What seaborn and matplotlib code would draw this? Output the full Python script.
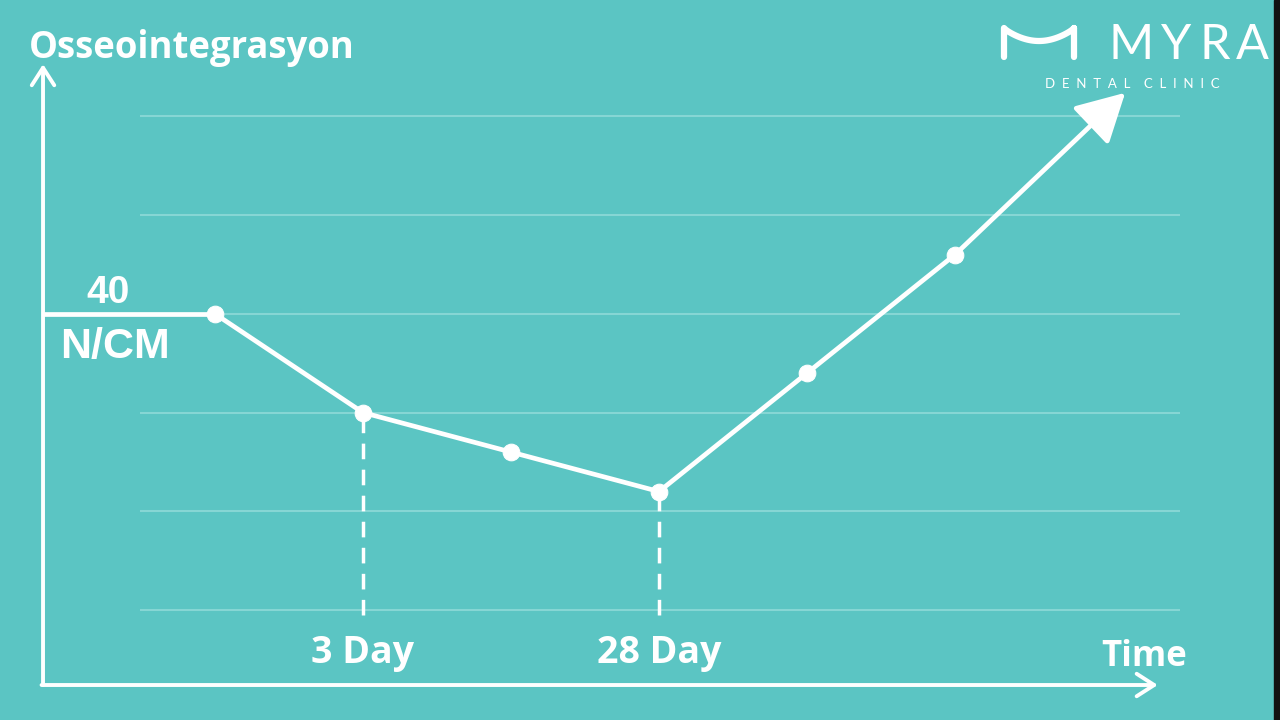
import numpy as np
import pandas as pd
import seaborn as sns
import matplotlib.pyplot as plt
from matplotlib.lines import Line2D

# chart data (time step index vs. implant stability, N/cm)
steps = [1, 2, 3, 4, 5, 6]
stability = [40, 30, 26, 22, 34, 46]
arrow_tip = (7.15, 62.4)
grid_levels = [10, 20, 30, 40, 50, 60]
day_marks = {'3 Day': 2, '28 Day': 4}
y_title = 'Osseointegrasyon'
x_title = 'Time'

BG = '#5bc5c3'
GRID = '#86d6d4'
WHITE = 'white'

sns.set_style('white')
plt.rcParams['font.family'] = ['Open Sans', 'DejaVu Sans']

fig = plt.figure(figsize=(12.8, 7.2), dpi=100)
fig.patch.set_facecolor(BG)
ax = fig.add_axes([0, 0, 1, 1])
ax.set_facecolor(BG)
ax.set_xlim(-0.4527, 8.196)
ax.set_ylim(-1.145, 71.8)
ax.axis('off')

# axis origin in data units
x0, y0 = -0.162, 2.4

# faint horizontal guides
ax.hlines(grid_levels, 0.49, 7.52, color=GRID, lw=1.5, zorder=1)

# dashed drops at the day markers
df = pd.DataFrame({'step': steps, 'value': stability})
for lab, s in day_marks.items():
    v = df.loc[df.step == s, 'value'].iloc[0]
    ax.vlines(s, 9.5, v, color=WHITE, lw=2.5, linestyles=(0, (4.5, 3)), zorder=2)
    ax.text(s, 4.63, lab, color=WHITE, fontsize=27, fontweight='bold',
            ha='center', va='baseline')

# horizontal start segment from the y axis
ax.plot([x0, steps[0]], [stability[0], stability[0]], color=WHITE, lw=3.4,
        solid_capstyle='butt', zorder=3)

# main curve
sns.lineplot(data=df, x='step', y='value', ax=ax, color=WHITE, lw=3.4,
             marker='o', markersize=12, markeredgecolor=WHITE, zorder=4)

# rising arrow
ax.annotate('', xy=arrow_tip, xytext=(steps[-1], stability[-1]),
            arrowprops=dict(arrowstyle='-|>,head_length=1.65,head_width=0.9',
                            color=WHITE, lw=3.4, shrinkA=0, shrinkB=0,
                            mutation_scale=18), zorder=4)

# axes with open arrowheads
ax.annotate('', xy=(x0, 65.3), xytext=(x0, y0),
            arrowprops=dict(arrowstyle='->,head_length=0.7,head_width=0.45',
                            color=WHITE, lw=2.8, shrinkA=0, shrinkB=0,
                            mutation_scale=18))
ax.annotate('', xy=(7.37, y0), xytext=(x0 - 0.01, y0),
            arrowprops=dict(arrowstyle='->,head_length=0.7,head_width=0.45',
                            color=WHITE, lw=2.8, shrinkA=0, shrinkB=0,
                            mutation_scale=18))

# labels
ax.text(0.277, 40.3, '40', color=WHITE, fontsize=28, fontweight='bold',
        family=['Liberation Sans'], ha='center', va='bottom')
ax.text(0.324, 35.5, 'N/CM', color=WHITE, fontsize=31, fontweight='bold',
        family=['Liberation Sans'], ha='center', va='baseline')
ax.text(-0.255, 65.9, y_title, color=WHITE, fontsize=26.3, fontweight='bold',
        ha='left', va='baseline')
ax.text(7.28, 4.33, x_title, color=WHITE, fontsize=25, fontweight='bold',
        ha='center', va='baseline')


# logo
def px(x, y):
    return x / 1280, 1 - y / 720


t = np.linspace(0, 1, 40)
mx = np.concatenate([[1004, 1004], 1004 + 70 * t, [1074, 1074]])
my = np.concatenate([[57, 28], 28 + 13 * np.sin(np.pi * t) ** 0.8, [28, 57]])
fig.add_artist(Line2D(mx / 1280, 1 - my / 720, color=WHITE, lw=4.5,
                      solid_joinstyle='round', solid_capstyle='round'))
for ch, cx in zip('MYRA', [1131, 1175, 1215, 1252]):
    fig.text(*px(cx, 59), ch, color=WHITE, fontsize=35, family=['Lato'],
             ha='center', va='baseline')
fig.text(*px(1045, 88), '  '.join('DENTAL') + '    ' + '  '.join('CLINIC'),
         color=WHITE, fontsize=9.5, family=['Lato'], ha='left', va='baseline')

# dark strip on the right edge
fig.add_artist(plt.Rectangle((1 - 6 / 1280, 0), 6 / 1280, 1,
                             transform=fig.transFigure, color='#111111'))

fig.savefig('out.png', dpi=100, facecolor=BG)
